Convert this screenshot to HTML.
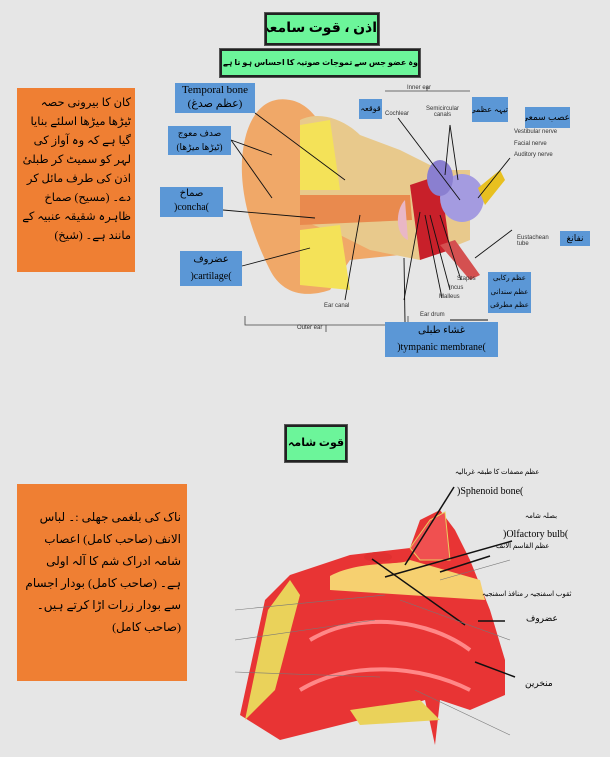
<!DOCTYPE html>
<html><head><meta charset="utf-8"><style>
body{margin:0;width:610px;height:757px;background:#e6e6e6;position:relative;overflow:hidden;font-family:"Liberation Serif","DejaVu Sans",serif}
.a{position:absolute;white-space:nowrap}
.g{position:absolute;background:#6cf59a;border:2px solid #222;box-shadow:0 0 0 1px #555;text-align:center;font-weight:bold;color:#000;white-space:nowrap;overflow:hidden}
.b{position:absolute;background:#5b97d6;color:#000;text-align:center;font-size:10px;line-height:14px;direction:rtl;white-space:nowrap;overflow:hidden}
.o{position:absolute;background:#ef7f33;color:#000;direction:rtl;text-align:right;font-size:11px;line-height:18px;padding:8px 6px;box-sizing:border-box;overflow:hidden}
.s{font-family:"Liberation Sans",sans-serif;font-size:6px;color:#333;position:absolute;white-space:nowrap}
</style></head><body>
<svg class="a" style="left:0;top:0" width="610" height="757">
<path d="M330 290 C300 300 280 290 270 270 C255 240 240 200 242 160 C245 115 265 95 290 100 C320 105 335 150 345 185 L420 195 L440 240 L400 255 L350 260 Z" fill="#f0a868"/>
<path d="M300 120 C320 110 345 120 360 135 L400 150 L440 170 L470 170 L470 240 L420 260 L370 250 L340 235 L300 220 Z" fill="#e8c98c"/>
<path d="M300 125 L330 120 L340 190 L300 190 Z" fill="#f4e258"/>
<path d="M300 230 L340 225 L350 290 L300 285 Z" fill="#f4e258"/>
<path d="M300 195 L410 195 L412 220 L300 225 Z" fill="#e98a4e"/>
<path d="M410 185 L440 175 L450 250 L420 260 Z" fill="#c8202a"/>
<path d="M405 200 C395 210 395 235 408 240 Z" fill="#e9b7c6"/>
<ellipse cx="462" cy="198" rx="22" ry="24" fill="#a49be0"/>
<ellipse cx="440" cy="178" rx="13" ry="18" fill="#8a7fd0"/>
<path d="M478 188 L500 170 L505 180 L485 205 Z" fill="#e8c020"/>
<path d="M440 245 L470 280 L480 275 L455 240 Z" fill="#d45050"/>
<path d="M245 316 L245 325 L408 325 L408 316 M326 325 L326 332" stroke="#444" fill="none" stroke-width="0.8"/>
<path d="M385 91 L470 91 M427 86 L427 91" stroke="#444" fill="none" stroke-width="0.8"/>
<g stroke="#111" stroke-width="0.9" fill="none">
<line x1="255" y1="113" x2="345" y2="180"/><line x1="231" y1="140" x2="272" y2="155"/><line x1="231" y1="140" x2="272" y2="198"/>
<line x1="223" y1="210" x2="315" y2="218"/><line x1="242" y1="266" x2="310" y2="248"/><line x1="345" y1="300" x2="360" y2="215"/>
<line x1="404" y1="258" x2="405" y2="322"/><line x1="404" y1="300" x2="420" y2="212"/><line x1="442" y1="298" x2="425" y2="215"/>
<line x1="450" y1="290" x2="430" y2="215"/><line x1="461" y1="280" x2="440" y2="215"/><line x1="398" y1="118" x2="460" y2="200"/>
<line x1="450" y1="125" x2="445" y2="175"/><line x1="450" y1="125" x2="458" y2="180"/><line x1="510" y1="158" x2="478" y2="198"/>
<line x1="512" y1="230" x2="475" y2="258"/><line x1="450" y1="320" x2="488" y2="320"/>
</g>
<path d="M240 715 L265 600 L290 575 L350 555 L410 548 L420 520 L440 510 L455 530 L470 560 L490 610 L505 660 L505 695 L470 710 L440 700 L435 745 L425 700 L360 720 L280 740 Z" fill="#e83434"/>
<path d="M268 610 L290 580 L300 595 L275 690 L245 720 Z" fill="#ead25a"/>
<path d="M410 548 L430 520 L445 512 L450 560 L420 560 Z" fill="#f05050" stroke="#e9d060"/>
<path d="M330 576 C360 560 400 566 410 560 L480 580 L485 600 L330 590 Z" fill="#f6d070"/>
<path d="M310 640 C360 610 430 620 470 650" stroke="#f88" stroke-width="4" fill="none"/>
<path d="M300 690 C350 660 420 665 470 690" stroke="#f88" stroke-width="4" fill="none"/>
<path d="M350 710 L420 700 L440 720 L360 725 Z" fill="#ead25a"/>
<ellipse cx="378" cy="557" rx="14" ry="5" fill="#e03030"/>
<g stroke="#111" stroke-width="1.5" fill="none">
<line x1="454" y1="487" x2="405" y2="565"/><line x1="512" y1="541" x2="385" y2="577"/><line x1="490" y1="556" x2="440" y2="572"/>
<line x1="372" y1="559" x2="465" y2="625"/><line x1="478" y1="621" x2="505" y2="621"/><line x1="475" y1="662" x2="515" y2="677"/>
</g>
<g stroke="#777" stroke-width="0.6" fill="none">
<line x1="235" y1="610" x2="385" y2="595"/><line x1="235" y1="640" x2="375" y2="620"/><line x1="235" y1="672" x2="380" y2="677"/>
<line x1="400" y1="600" x2="510" y2="640"/><line x1="415" y1="690" x2="510" y2="735"/><line x1="440" y1="580" x2="510" y2="560"/>
</g>
</svg>

<div class="g" style="left:265px;top:13px;width:110px;height:28px;font-size:14px;line-height:28px;direction:rtl">اذن ، قوت سامعہ</div>
<div class="g" style="left:220px;top:49px;width:196px;height:24px;font-size:8px;line-height:24px;direction:rtl">وہ عضو جس سے تموجات صوتیہ کا احساس ہو تا ہے۔</div>
<div class="o" style="left:17px;top:88px;width:118px;height:184px;font-size:11.5px;line-height:19px;padding:6px 4px">کان کا بیرونی حصہ ٹیڑھا میڑھا اسلئے بنایا گیا ہے کہ وہ آواز کی لہر کو سمیٹ کر طبلیٔ اذن کی طرف مائل کر دے۔ (مسیح) صماخ ظاہرہ شقیقہ عنبیہ کے مانند ہے۔ (شیخ)</div>

<div class="b" style="left:175px;top:83px;width:80px;height:30px;direction:ltr;font-size:11px">Temporal bone<br>(عظم صدغ)</div>
<div class="b" style="left:168px;top:126px;width:63px;height:29px;font-size:9px">صدف معوج<br>(ٹیڑھا میڑھا)</div>
<div class="b" style="left:160px;top:187px;width:63px;height:30px">صماخ<br>)concha(</div>
<div class="b" style="left:180px;top:251px;width:62px;height:35px;line-height:17px">عضروف<br>)cartilage(</div>
<div class="b" style="left:359px;top:99px;width:23px;height:20px;font-size:8px;line-height:20px">قوقعہ</div>
<div class="b" style="left:472px;top:97px;width:36px;height:25px;font-size:8px;line-height:25px">تیہہ عظمی</div>
<div class="b" style="left:525px;top:107px;width:45px;height:21px;font-size:9px;line-height:21px">عصب سمعی</div>
<div class="b" style="left:560px;top:231px;width:30px;height:15px;font-size:9px">نفانغ</div>
<div class="b" style="left:488px;top:272px;width:43px;height:41px;font-size:7px;line-height:13.6px">عظم رکابی<br>عظم سندانی<br>عظم مطرقی</div>
<div class="b" style="left:385px;top:322px;width:113px;height:35px;line-height:17px">غشاء طبلی<br>)tympanic membrane(</div>

<div class="s" style="left:407px;top:85px">Inner ear</div>
<div class="s" style="left:385px;top:111px">Cochlear</div>
<div class="s" style="left:426px;top:106px;text-align:center">Semicircular<br>canals</div>
<div class="s" style="left:514px;top:129px">Vestibular nerve</div>
<div class="s" style="left:514px;top:141px">Facial nerve</div>
<div class="s" style="left:514px;top:152px">Auditory nerve</div>
<div class="s" style="left:517px;top:235px">Eustachean<br>tube</div>
<div class="s" style="left:457px;top:276px">Stapes</div>
<div class="s" style="left:449px;top:285px">Incus</div>
<div class="s" style="left:439px;top:294px">Malleus</div>
<div class="s" style="left:420px;top:312px">Ear drum</div>
<div class="s" style="left:324px;top:303px">Ear canal</div>
<div class="s" style="left:297px;top:325px">Outer ear</div>

<div class="g" style="left:285px;top:425px;width:58px;height:33px;font-size:11px;line-height:33px">قوت شامہ</div>
<div class="o" style="left:17px;top:484px;width:170px;height:197px;padding-top:22px;font-size:12px;line-height:22px">ناک کی بلغمی جھلی :۔ لباس الانف (صاحب کامل) اعصاب شامہ ادراک شم کا آلہ اولی ہے۔ (صاحب کامل) بودار اجسام سے بودار زرات اڑا کرتے ہیں۔ (صاحب کامل)</div>

<div class="a" style="left:455px;top:468px;font-size:7px;direction:rtl">عظم مصفات کا طبقہ غربالیہ</div>
<div class="a" style="left:457px;top:486px;font-size:10px">)Sphenoid bone(</div>
<div class="a" style="left:525px;top:512px;font-size:7px">بصلہ شامہ</div>
<div class="a" style="left:503px;top:529px;font-size:10px">)Olfactory bulb(</div>
<div class="a" style="left:496px;top:542px;font-size:7px;direction:rtl">عظم القاسم الانف</div>
<div class="a" style="left:482px;top:590px;font-size:7px;direction:rtl">ثقوب اسفنجیہ ر منافذ اسفنجیہ</div>
<div class="a" style="left:526px;top:613px;font-size:9px">عضروف</div>
<div class="a" style="left:525px;top:678px;font-size:9px">منخرین</div>
</body></html>
